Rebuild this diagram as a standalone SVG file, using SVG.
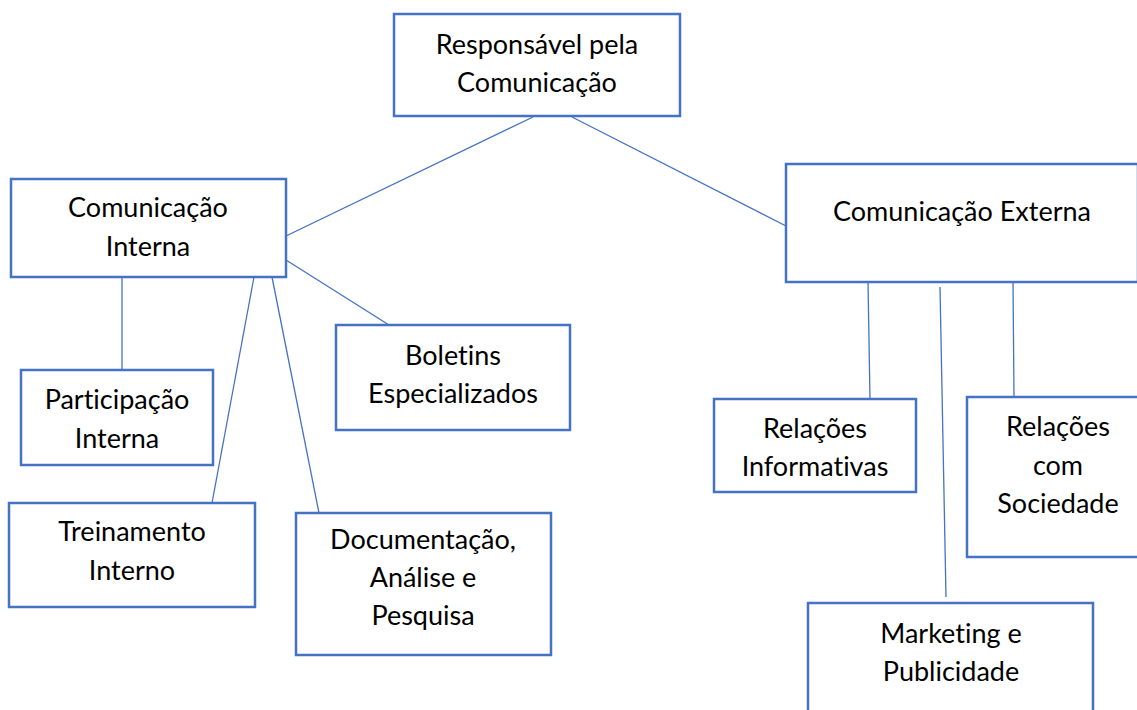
<svg xmlns="http://www.w3.org/2000/svg" width="1137" height="710" viewBox="0 0 1137 710">
<style>
.box{fill:#fff;stroke:#4472C4;stroke-width:2.5}
.lbl{font-family:Lato,"Open Sans","Liberation Sans",sans-serif;font-size:27px;fill:#000;text-anchor:middle;font-variant-ligatures:none;font-feature-settings:"liga" 0}
.con{stroke:#4472C4;stroke-width:1.3;fill:none}
</style>
<rect width="1137" height="710" fill="#fff"/>
<g id="connectors">
<line class="con" x1="533" y1="117" x2="286" y2="236"/>
<line class="con" x1="572" y1="117" x2="786" y2="226"/>
<line class="con" x1="122" y1="277" x2="122" y2="370"/>
<line class="con" x1="254" y1="277" x2="212" y2="503"/>
<line class="con" x1="272" y1="277" x2="319" y2="513"/>
<line class="con" x1="286" y1="260" x2="389" y2="325"/>
<line class="con" x1="868" y1="282" x2="870" y2="399"/>
<line class="con" x1="1013" y1="282" x2="1014" y2="397"/>
<line class="con" x1="940" y1="287" x2="946" y2="597"/>
</g>
<g id="responsavel">
<rect class="box" x="394" y="14" width="286" height="102"/>
<text class="lbl" x="537" y="54">Responsável pela</text>
<text class="lbl" x="537" y="92">Comunicação</text>
</g>
<g id="com-interna">
<rect class="box" x="11" y="179" width="275" height="98"/>
<text class="lbl" x="148" y="217">Comunicação</text>
<text class="lbl" x="148" y="256">Interna</text>
</g>
<g id="participacao">
<rect class="box" x="21" y="370" width="192" height="95"/>
<text class="lbl" x="117" y="409">Participação</text>
<text class="lbl" x="117" y="448">Interna</text>
</g>
<g id="boletins">
<rect class="box" x="336" y="325" width="234" height="105"/>
<text class="lbl" x="453" y="365">Boletins</text>
<text class="lbl" x="453" y="403">Especializados</text>
</g>
<g id="treinamento">
<rect class="box" x="9" y="503" width="246" height="104"/>
<text class="lbl" x="132" y="541">Treinamento</text>
<text class="lbl" x="132" y="580">Interno</text>
</g>
<g id="documentacao">
<rect class="box" x="296" y="513" width="255" height="142"/>
<text class="lbl" x="423" y="549">Documentação,</text>
<text class="lbl" x="423" y="587">Análise e</text>
<text class="lbl" x="423" y="625">Pesquisa</text>
</g>
<g id="com-externa">
<rect class="box" x="786" y="164" width="352" height="118"/>
<text class="lbl" x="962" y="221">Comunicação Externa</text>
</g>
<g id="rel-informativas">
<rect class="box" x="714" y="399" width="202" height="93"/>
<text class="lbl" x="815" y="438">Relações</text>
<text class="lbl" x="815" y="476">Informativas</text>
</g>
<g id="rel-sociedade">
<rect class="box" x="967" y="397" width="172" height="160"/>
<text class="lbl" x="1058" y="436">Relações</text>
<text class="lbl" x="1058" y="475">com</text>
<text class="lbl" x="1058" y="513">Sociedade</text>
</g>
<g id="marketing">
<rect class="box" x="808" y="603" width="285" height="120"/>
<text class="lbl" x="951" y="643">Marketing e</text>
<text class="lbl" x="951" y="681">Publicidade</text>
</g>
</svg>
